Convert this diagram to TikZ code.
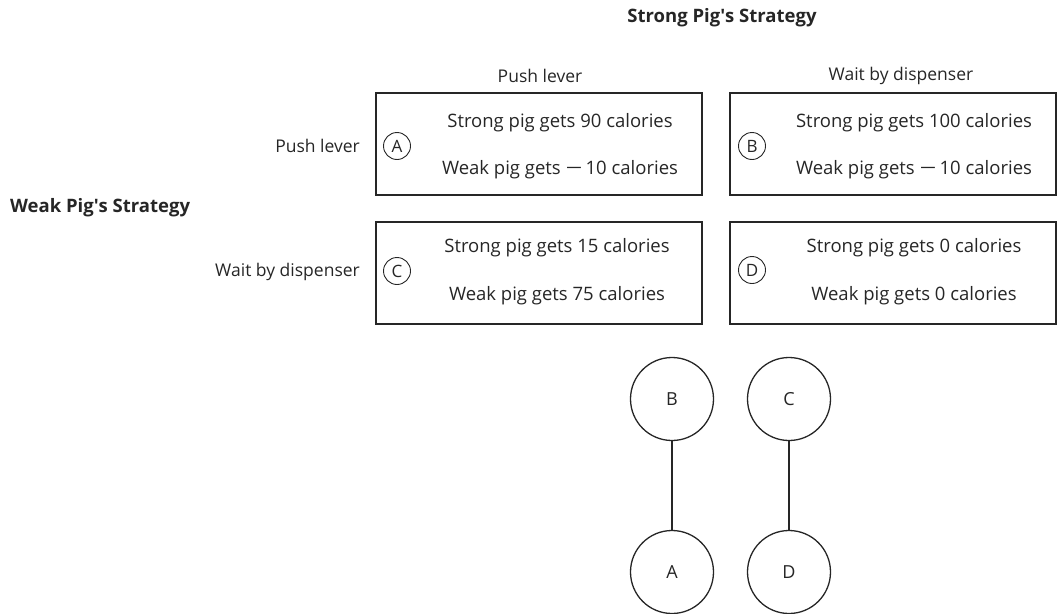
\documentclass[tikz,border=0pt]{standalone}
\usepackage{fontspec}
\usepackage{graphicx}
\setmainfont{Open Sans}
\newcommand{\longminus}{\scalebox{1.6}[1]{−}}
\begin{document}
\begin{tikzpicture}[x=1pt,y=-1pt,
  every node/.style={text=black!85, font=\fontsize{17.5}{20}\selectfont, inner sep=0pt},
  payoff/.style={draw=black!85, line width=1.6pt, minimum width=326pt, minimum height=102pt},
  tag/.style={draw=black!85, circle, line width=0.9pt, minimum size=27pt, font=\fontsize{17}{19}\selectfont},
  body/.style={font=\fontsize{18.5}{21}\selectfont},
  head/.style={font=\bfseries\fontsize{18.5}{21}\selectfont},
  outcome/.style={draw=black!85, circle, line width=1.3pt, minimum size=83pt, font=\fontsize{18}{20}\selectfont},
  link/.style={draw=black!85, line width=1.3pt}]
\useasboundingbox (0,0) rectangle (1057,613);
\node[head] (sps) at (722,18) {Strong Pig\textquotesingle s Strategy};
\node[head, anchor=west] (wps) at (10,208) {Weak Pig\textquotesingle s Strategy};
\node (cpush) at (540,76) {Push lever};
\node (cwait) at (901,76) {Wait by dispenser};
\node[anchor=east] (rpush) at (360,146) {Push lever};
\node[anchor=east] (rwait) at (360,272) {Wait by dispenser};

\node[payoff] (boxA) at (539,144) {};
\node[payoff] (boxB) at (893,144) {};
\node[payoff] (boxC) at (539,273) {};
\node[payoff] (boxD) at (893,273) {};

\node[tag] (tA) at (397,146) {A};
\node[tag] (tB) at (752,146) {B};
\node[tag] (tC) at (397,271) {C};
\node[tag] (tD) at (752,270) {D};

\node[body] (a1) at (560,123) {Strong pig gets 90 calories};
\node[body] (a2) at (560,170) {Weak pig gets \longminus\,10 calories};
\node[body] (b1) at (914,123) {Strong pig gets 100 calories};
\node[body] (b2) at (914,170) {Weak pig gets \longminus\,10 calories};
\node[body] (c1) at (557,248) {Strong pig gets 15 calories};
\node[body] (c2) at (557,296) {Weak pig gets 75 calories};
\node[body] (d1) at (914,248) {Strong pig gets 0 calories};
\node[body] (d2) at (914,296) {Weak pig gets 0 calories};

\node[outcome] (oB) at (672,399) {B};
\node[outcome] (oC) at (789,399) {C};
\node[outcome] (oA) at (672,572) {A};
\node[outcome] (oD) at (789,572) {D};
\draw[link] (oB) -- (oA);
\draw[link] (oC) -- (oD);
\end{tikzpicture}
\end{document}
